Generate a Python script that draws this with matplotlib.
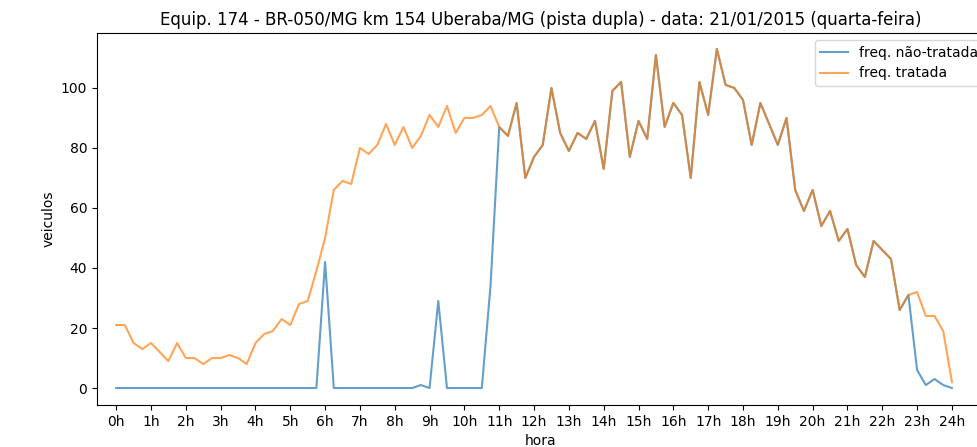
import numpy as np
import matplotlib
matplotlib.use("Agg")
import matplotlib.pyplot as plt

# contagem a cada 15 min, 0h..24h (97 pontos)
tratada = [21, 21, 15, 13, 15, 12, 9, 15, 10, 10, 8, 10, 10, 11, 10, 8,
           15, 18, 19, 23, 21, 28, 29, 39, 50, 66, 69, 68, 80, 78, 81, 88,
           81, 87, 80, 84, 91, 87, 94, 85, 90, 90, 91, 94, 87, 84, 95, 70,
           77, 81, 100, 85, 79, 85, 83, 89, 73, 99, 102, 77, 89, 83, 111, 87,
           95, 91, 70, 102, 91, 113, 101, 100, 96, 81, 95, 88, 81, 90, 66, 59,
           66, 54, 59, 49, 53, 41, 37, 49, 46, 43, 26, 31, 32, 24, 24, 19,
           2]
nao_tratada = ([0] * 24 + [42] + [0] * 10 + [1, 0, 29] + [0] * 5 + [34]
               + tratada[44:91] + [31, 6, 1, 3, 1, 0])
horas = np.arange(len(tratada)) / 4.0
tick_pos = list(range(25))
tick_lab = ["%dh" % h for h in tick_pos]
titulo = "Equip. 174 - BR-050/MG km 154 Uberaba/MG (pista dupla) - data: 21/01/2015 (quarta-feira)"

fig = plt.figure(figsize=(9.77, 4.47), dpi=100)
ax = fig.add_axes([97/977, 42/447, 888/977, 372/447])
ax.plot(horas, nao_tratada, color="tab:blue", alpha=0.7, lw=1.5, label="freq. não-tratada")
ax.plot(horas, tratada, color="tab:orange", alpha=0.7, lw=1.5, label="freq. tratada")
ax.set_xticks(tick_pos)
ax.set_xticklabels(tick_lab)
ax.set_xlim(-0.55, 24.95)
ax.set_ylim(-5.65, 118.3)
ax.set_xlabel("hora")
ax.set_ylabel("veiculos")
ax.set_title(titulo)
ax.legend(loc="upper right", bbox_to_anchor=(1 + 6/888, 1))
fig.savefig("out.png", dpi=100)
